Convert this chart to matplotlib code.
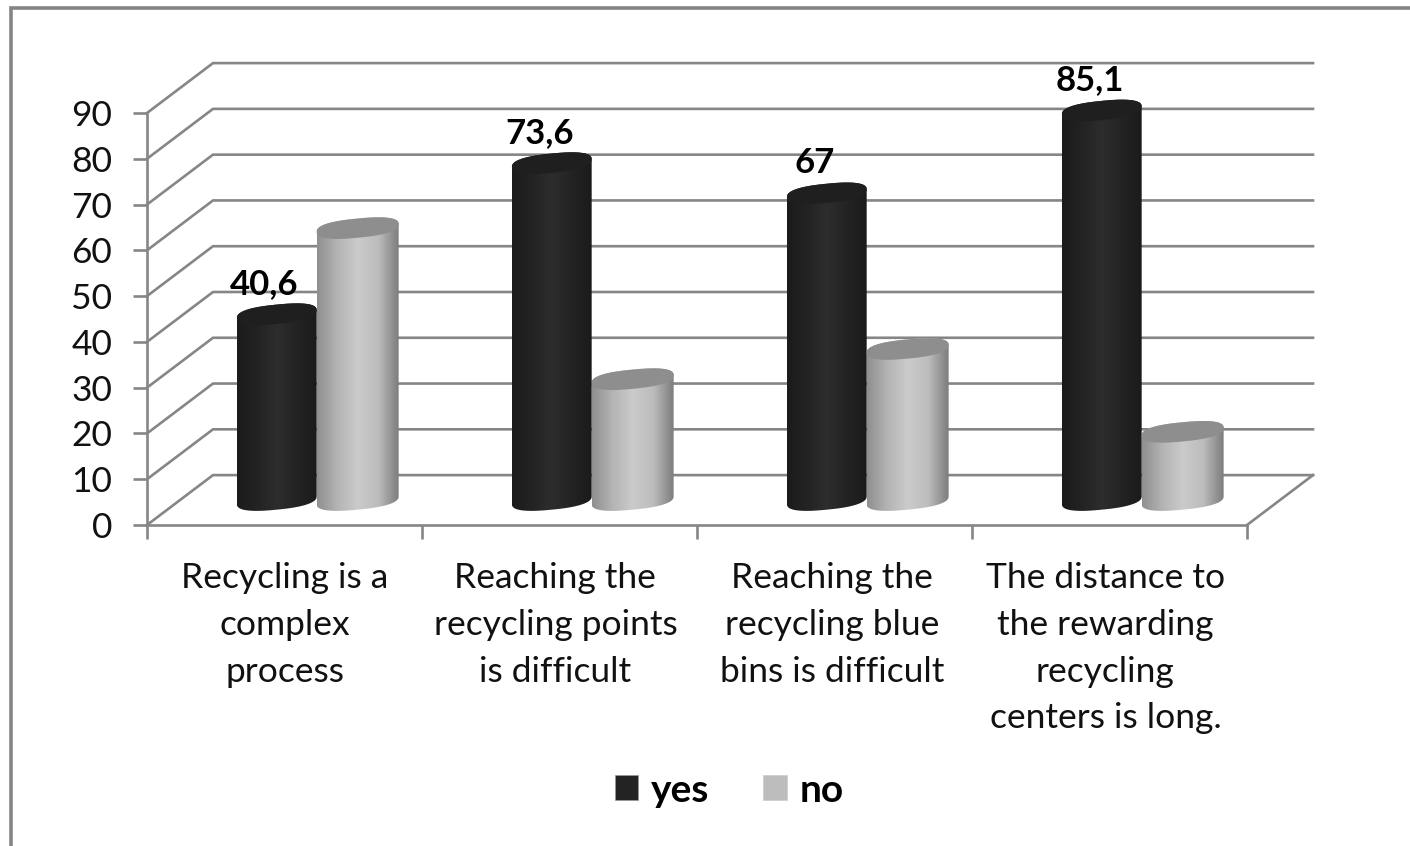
import numpy as np
import matplotlib
matplotlib.use('Agg')
import matplotlib.pyplot as plt
from matplotlib.colors import LinearSegmentedColormap
from matplotlib.lines import Line2D
from matplotlib.patches import Patch, Polygon

plt.rcParams['font.family'] = ['Lato', 'DejaVu Sans']

# Survey answers, in percent
categories = ['Recycling is a\ncomplex\nprocess',
              'Reaching the\nrecycling points\nis difficult',
              'Reaching the\nrecycling blue\nbins is difficult',
              'The distance to\nthe rewarding\nrecycling\ncenters is long.']
yes_values = [40.6, 73.6, 67, 85.1]
no_values = [59.4, 26.4, 33, 14.9]
y_ticks = [0, 10, 20, 30, 40, 50, 60, 70, 80, 90]

GRID = '#868686'
W, H = 1410, 846

fig = plt.figure(figsize=(W / 100, H / 100), dpi=100, facecolor='white')
ax = fig.add_axes([147 / W, 1 - 525 / H, 1100 / W, 412 / H])

# Depth of the fake 3D box, in data units
depth_x = 0.24
depth_y = 10.9


def rim(x0, y0, a, t):
    # slightly squared-off, tilted ellipse for the cylinder ends
    b = 2.1
    tilt = 0.85
    p = 0.8
    c = np.sign(np.cos(t)) * np.abs(np.cos(t)) ** p
    s = np.sign(np.sin(t)) * np.abs(np.sin(t)) ** p
    return x0 + a * c, y0 + b * s + tilt * c


def draw_cylinder(center, value, width, stops, top_color, z):
    a = width / 2
    x0 = center + depth_x * 0.5
    y0 = depth_y * 0.5

    low_x, low_y = rim(x0, y0, a, np.linspace(np.pi, 2 * np.pi, 80))
    up_x, up_y = rim(x0, y0 + value, a, np.linspace(0, np.pi, 80))
    body = Polygon(np.c_[np.r_[low_x, up_x], np.r_[low_y, up_y]], closed=True,
                   facecolor='none', edgecolor='none', transform=ax.transData)
    ax.add_patch(body)

    # horizontal shading, clipped to the cylinder outline
    cmap = LinearSegmentedColormap.from_list('shade', stops)
    shade = np.linspace(0, 1, 256).reshape(1, -1)
    im = ax.imshow(shade, cmap=cmap, aspect='auto', interpolation='bilinear',
                   extent=(x0 - a, x0 + a, 0, y0 + value + 5), zorder=z)
    im.set_clip_path(body)
    im.set_clip_box(fig.bbox)

    top_x, top_y = rim(x0, y0 + value, a, np.linspace(0, 2 * np.pi, 160))
    ax.add_patch(Polygon(np.c_[top_x, top_y], closed=True, facecolor=top_color,
                         edgecolor='none', zorder=z + 0.1, clip_on=False))


# Side wall and back wall gridlines
for v in y_ticks:
    ax.plot([0, depth_x, 4 + depth_x], [v, v + depth_y, v + depth_y],
            color=GRID, lw=1.9, clip_on=False, zorder=1, solid_joinstyle='miter')
ax.plot([4, 4 + depth_x], [0, depth_y], color=GRID, lw=1.9, clip_on=False, zorder=1)

dark_stops = ['#1b1b1b', '#232323', '#2d2d2d', '#232323', '#1b1b1b']
light_stops = ['#8f8f8f', '#b4b4b4', '#cbcbcb', '#bcbcbc', '#7c7c7c']
bar_w = 0.29
no_w = 0.298

for i in range(4):
    c = i + 0.5
    draw_cylinder(c - bar_w / 2 - 0.003, yes_values[i], bar_w, dark_stops, '#1f1f1f', 3 + i)
    draw_cylinder(c + no_w / 2 - 0.003, no_values[i], no_w, light_stops, '#8e8e8e', 3.5 + i)

    # Only the "yes" series carries value labels
    ax.annotate(str(yes_values[i]).replace('.', ','),
                xy=(c - bar_w / 2 + depth_x * 0.5, depth_y * 0.5 + yes_values[i]),
                xytext=(-9.5, 22), textcoords='offset points', ha='center', va='center',
                fontsize=25, fontweight='bold', color='black', zorder=20,
                annotation_clip=False)

ax.set_xlim(0, 4)
ax.set_ylim(0, 90)

for side in ['top', 'right']:
    ax.spines[side].set_visible(False)
for side in ['left', 'bottom']:
    ax.spines[side].set_color(GRID)
    ax.spines[side].set_linewidth(1.9)

ax.set_yticks(y_ticks)
ax.set_xticks([0, 1, 2, 3, 4])
ax.set_xticklabels([])
ax.set_xticks([0.5, 1.485, 2.49, 3.485], minor=True)
ax.set_xticklabels(categories, minor=True, fontsize=25.5, linespacing=1.56, color='#111111')
ax.tick_params(axis='x', which='major', length=10, width=1.9, color=GRID)
ax.tick_params(axis='x', which='minor', length=0, pad=27)
ax.tick_params(axis='y', length=10, width=1.9, color=GRID, labelsize=25.5, pad=15,
               labelcolor='#111111')

handles = [Patch(facecolor='#232323', edgecolor='#999999', linewidth=0.5, label='yes'),
           Patch(facecolor='#bdbdbd', edgecolor='#cccccc', linewidth=0.5, label='no')]
fig.legend(handles=handles, loc='center', bbox_to_anchor=(729 / W, 1 - 790 / H), ncol=2,
           frameon=False, handlelength=0.6, handleheight=0.62, handletextpad=0.32,
           columnspacing=1.4, prop={'family': 'Lato', 'weight': 'bold', 'size': 28})

# Outer border, open at the bottom and running off the right edge
fig.add_artist(Line2D([11 / W, 11 / W, 1], [0, 1 - 8 / H, 1 - 8 / H],
                      color='#858585', lw=2.6, solid_joinstyle='miter'))

fig.savefig('out.png', dpi=100)
